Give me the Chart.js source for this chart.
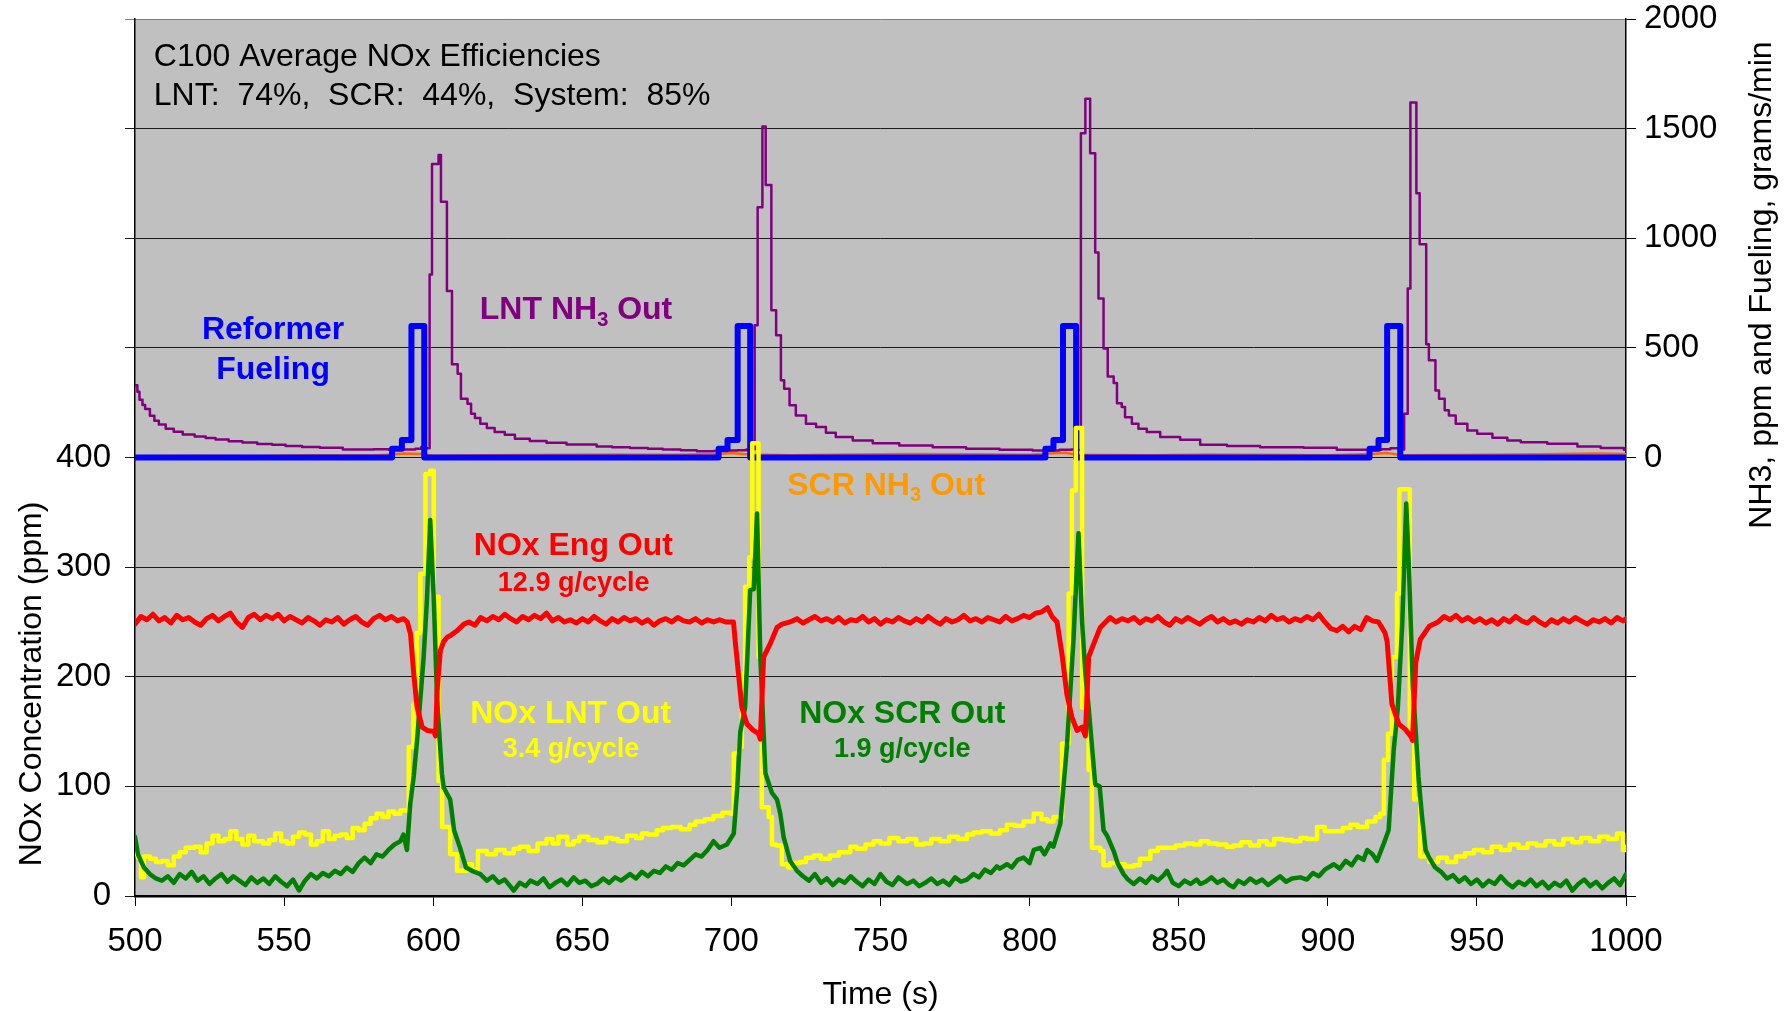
<!DOCTYPE html>
<html>
<head>
<meta charset="utf-8">
<title>C100 Average NOx Efficiencies</title>
<script src="https://cdn.jsdelivr.net/npm/chart.js@4.4.1/dist/chart.umd.min.js"></script>
<style>
  html, body { margin: 0; padding: 0; background: #fff; }
  #wrap { width: 1790px; height: 1011px; }
</style>
</head>
<body>
<div id="wrap"><canvas id="chart" width="1790" height="1011"></canvas></div>
<script>
// Series as [time (s), value] pairs

// Reformer fueling, grams/min (right axis), value holds from each time
const reformerFueling = [
  [500, 0], [586.2, 40], [589.5, 80], [592.7, 600], [597, 0],
  [695.7, 40], [698.7, 80], [702.1, 600], [706.3, 0],
  [805.3, 40], [808, 80], [811.2, 600], [815.6, 0],
  [914, 40], [917, 80], [919.9, 600], [924.3, 0], [1000, 0]
];

// LNT NH3 out, ppm (right axis)
const lntNh3Out = [
  [500, 330], [500.8, 300], [501.5, 263], [502.5, 240], [503.4, 221], [505, 190], [506.5, 168],
  [508, 150], [510.3, 131], [513, 118], [516, 105], [520, 96], [523.7, 89], [527, 82],
  [531.4, 74], [536, 68], [541, 62], [546, 58], [550.5, 53], [556, 48], [562, 44],
  [569.7, 37], [575, 36], [580, 38], [585, 35], [590, 36], [594, 40], [596, 48], [597.5, 42],
  [598.8, 835], [599.6, 1339], [601.8, 1380], [602.6, 1167], [604.6, 759], [606.3, 425],
  [608.2, 382], [609.3, 268], [611.5, 245], [612.7, 200], [614, 180], [615.8, 154], [618, 134],
  [620.6, 116], [624, 104], [627.4, 85], [632.4, 75], [638, 67], [644.7, 59], [654.8, 50],
  [660, 47], [666, 43], [672, 40], [677, 37], [683, 33], [688.4, 29], [694, 30], [698.6, 32],
  [702, 33], [705, 36], [707, 38],
  [707.8, 603], [708.8, 1141], [710.4, 1510], [711.5, 1243], [713.4, 672], [715, 558],
  [716.6, 352], [717.7, 314], [719.5, 238], [721.6, 192], [725, 154], [728.4, 139], [731.7, 113],
  [735, 93], [740.7, 78], [747.4, 65], [756.3, 55], [767.5, 47], [778.7, 40], [789.9, 35],
  [801, 32], [806, 32], [810, 35], [814, 36], [816, 34],
  [817.2, 1479], [818.7, 1636], [820.3, 1388], [822, 935], [823.1, 725], [824.8, 497],
  [826.2, 370], [828.2, 340], [829.3, 248], [830.9, 230], [832, 184], [834.3, 154], [836.5, 131],
  [839.3, 116], [843.8, 93], [850.5, 81], [857.2, 58], [866.2, 53], [877.3, 47], [891.9, 44],
  [903, 35], [913, 35], [918, 38], [921, 42], [924, 36],
  [925.6, 200], [926.8, 771], [927.7, 1619], [929.7, 1205], [930.8, 973], [933, 516],
  [933.9, 443], [936.1, 306], [937.3, 268], [939.2, 215], [940.6, 192], [942.9, 154],
  [946.8, 123], [950.1, 108], [955.2, 90], [960.2, 78], [964.7, 70], [973.6, 63], [983.7, 50],
  [991.5, 43], [999.3, 35], [1000, 35]
];

// SCR NH3 out, ppm (right axis)
const scrNh3Out = [
  [500, 6], [520, 8], [540, 7], [560, 10], [580, 9], [586, 14], [590, 18], [596, 16], [600, 8],
  [620, 10], [640, 12], [660, 14], [680, 12], [695, 16], [700, 20], [706, 14], [720, 10],
  [740, 14], [760, 16], [780, 15], [800, 12], [806, 18], [812, 22], [816, 12], [840, 10],
  [860, 14], [880, 12], [900, 10], [914, 16], [920, 20], [925, 10], [950, 12], [970, 15],
  [990, 18], [1000, 16]
];

// NOx engine out, ppm (left axis)
const noxEngOut = [
  [500, 248], [502, 255], [504, 252], [506, 257], [508, 251], [510, 254], [512, 249], [514, 256],
  [516, 252], [518, 254], [520, 250], [522, 247], [524, 253], [526, 256], [528, 251], [530, 255],
  [532, 258], [534, 250], [536, 245], [538, 254], [540, 257], [542, 252], [544, 256], [546, 253],
  [548, 257], [550, 251], [552, 255], [554, 252], [556, 249], [558, 254], [560, 251], [562, 247],
  [564, 252], [566, 250], [568, 254], [570, 248], [572, 252], [574, 255], [576, 250], [578, 247],
  [580, 253], [582, 256], [584, 252], [586, 255], [588, 251], [590, 253], [591.3, 250],
  [592.4, 239], [593.5, 202], [594.6, 172], [596.3, 154], [598, 151], [600.2, 150], [600.8, 146],
  [601.3, 187], [602.4, 224], [603.5, 232], [604.7, 236], [606, 238], [608, 242], [610.3, 248],
  [612, 250], [614, 247], [615.9, 254], [618, 251], [620, 255], [622, 252], [624, 257], [626, 253],
  [628, 250], [630, 255], [632, 252], [634, 256], [636, 253], [638, 258], [640, 251], [642, 254],
  [644, 250], [646, 252], [648, 249], [650, 253], [652, 250], [654, 255], [656, 251], [658, 248],
  [660, 253], [662, 250], [664, 254], [666, 251], [668, 253], [670, 249], [672, 252], [674, 247],
  [676, 251], [678, 253], [680, 250], [682, 254], [684, 251], [686, 250], [688, 253], [690, 249],
  [692, 252], [694, 250], [696, 252], [698, 250], [700.7, 250], [701.3, 232], [702.4, 202],
  [703.5, 172], [705.2, 157], [707.4, 151], [709.1, 148], [709.7, 143], [710.8, 218], [713, 230],
  [715.3, 245], [717, 248], [719.7, 250], [722, 253], [724, 249], [726, 252], [728, 255],
  [730, 251], [732, 253], [734, 250], [736, 254], [738, 249], [740, 252], [742, 251], [744, 255],
  [746, 250], [748, 253], [750, 248], [752, 252], [754, 250], [756, 254], [758, 251], [760, 249],
  [762, 253], [764, 250], [766, 255], [768, 251], [770, 248], [772, 253], [774, 250], [776, 252],
  [778, 256], [780, 251], [782, 253], [784, 250], [786, 254], [788, 252], [790, 250], [792, 255],
  [794, 251], [796, 253], [798, 256], [800, 254], [802, 258], [804, 259], [806, 263],
  [807.5, 255], [809.2, 250], [810.9, 220], [812.5, 184], [814.2, 163], [815.9, 151],
  [817.6, 154], [818.7, 146], [819.8, 218], [821.5, 230], [823.7, 245], [825.5, 250],
  [827, 254], [829, 250], [831, 253], [833, 251], [835, 254], [837, 249], [839, 253], [841, 251],
  [843, 255], [845, 250], [847, 247], [849, 253], [851, 250], [853, 254], [855, 251], [857, 248],
  [859, 252], [861, 255], [863, 250], [865, 253], [867, 249], [869, 251], [871, 248], [873, 252],
  [875, 250], [877, 254], [879, 251], [881, 256], [883, 252], [885, 254], [887, 250], [889, 253],
  [891, 251], [893, 255], [895, 252], [897, 257], [899, 250], [901, 244], [903, 242], [905, 246],
  [907, 241], [909, 246], [911, 243], [913, 254], [915, 251], [917, 250], [919.2, 240],
  [919.9, 232], [921.5, 175], [923.8, 157], [926, 152], [928, 145], [928.4, 142], [929.5, 213],
  [931, 234], [934, 246], [937, 250], [939, 255], [941, 252], [943, 256], [945, 251], [947, 254],
  [949, 250], [951, 253], [953, 249], [955, 252], [957, 248], [959, 253], [961, 250], [963, 255],
  [965, 251], [967, 249], [969, 254], [971, 250], [973, 247], [975, 252], [977, 249], [979, 253],
  [981, 250], [983, 254], [985, 251], [987, 248], [989, 252], [991, 250], [993, 253], [995, 249],
  [997, 254], [999, 251], [1000, 253]
];

// NOx LNT out, ppm (left axis), value holds from each time
const noxLntOut = [
  [500, 38], [501, 35], [502, 17], [503, 36], [505, 34], [507, 31], [509, 32], [511, 28],
  [513, 36], [515, 40], [517, 44], [520, 45], [522, 40], [524, 48], [526, 55], [528, 50],
  [530, 52], [532, 59], [534, 52], [536, 47], [538, 55], [540, 50], [543, 48], [545, 51],
  [547, 57], [549, 50], [551, 48], [553, 54], [555, 58], [557, 56], [559, 47], [561, 50],
  [563, 59], [565, 52], [567, 55], [569, 56], [571, 53], [573, 62], [575, 60], [577, 66],
  [579, 71], [581, 75], [583, 72], [585, 77], [587, 75], [589, 78], [591.8, 136], [593.4, 175],
  [594.5, 240], [595.7, 294], [597.4, 385], [599, 388], [600.2, 273], [601.8, 105], [603, 63],
  [605.7, 38], [608, 23], [611.3, 29], [613, 24], [615, 41], [618, 38], [621, 42], [624, 39],
  [627, 43], [629, 45], [632, 41], [635, 48], [638, 52], [640, 48], [642, 54], [645, 47],
  [647, 50], [649, 54], [652, 51], [655, 49], [658, 53], [660, 52], [662, 50], [665, 55],
  [668, 53], [670, 57], [672, 56], [675, 60], [677, 62], [680, 63], [683, 61], [686, 65],
  [688, 68], [691, 70], [694, 73], [697, 76], [699.7, 75], [700.8, 130], [702.5, 136],
  [703.5, 203], [704.6, 282], [706, 309], [707, 413], [708.3, 413], [709.1, 218], [710.2, 81],
  [712.5, 72], [713.6, 47], [715, 46], [716.9, 29], [719, 26], [721, 30], [723, 31], [725, 35],
  [727.6, 37], [730, 34], [733, 37], [736, 40], [739.9, 45], [742, 43], [745, 47], [747.7, 50],
  [750, 48], [753, 53], [756, 50], [759, 52], [762, 47], [764.5, 48], [767, 52], [770, 50],
  [773, 54], [776, 52], [779, 56], [781.2, 58], [784, 59], [787, 57], [790, 60], [792.4, 65],
  [795, 64], [798, 68], [801.4, 75], [804, 70], [806, 68], [808, 72], [810.9, 139], [813.1, 276],
  [814.2, 370], [815.5, 427], [816.8, 427], [817.6, 172], [819.8, 115], [820.9, 44], [823.7, 41],
  [824.8, 28], [827, 30], [829.3, 29], [832, 27], [834.9, 28], [837, 34], [840.5, 41], [843, 44],
  [846.1, 44], [849, 46], [852, 48], [855, 47], [857.3, 50], [860, 48], [863, 47], [866, 45],
  [868.4, 46], [871, 49], [874, 46], [877, 50], [879.6, 47], [882, 52], [885, 51], [888, 50],
  [890.8, 53], [893, 52], [896.4, 63], [899, 59], [902, 59], [905, 62], [907.6, 65], [910, 63],
  [913.2, 68], [916, 72], [917.6, 75], [918.8, 124], [920.2, 148], [921.5, 218], [923.2, 276],
  [924, 371], [926.5, 371], [927.5, 151], [929, 88], [931, 36], [934, 31], [937, 35], [940, 31],
  [943, 36], [946, 39], [949, 42], [952, 40], [955, 45], [958, 42], [961, 47], [964, 44],
  [967, 48], [970, 46], [973, 50], [976, 47], [979, 52], [982, 49], [985, 53], [988, 50],
  [991, 54], [994, 52], [997, 57], [999, 42], [1000, 45]
];

// NOx SCR out, ppm (left axis)
const noxScrOut = [
  [500, 54], [501, 38], [503, 26], [505, 20], [507, 16], [509, 14], [511, 18], [513, 12],
  [515, 20], [517, 16], [519, 22], [521, 14], [523, 18], [525, 11], [527, 16], [529, 20],
  [531, 13], [533, 18], [535, 14], [537, 10], [539, 17], [541, 12], [543, 16], [545, 11],
  [547, 18], [549, 13], [551, 9], [553, 15], [555, 5], [557, 14], [559, 20], [561, 16],
  [563, 21], [565, 18], [567, 23], [569, 20], [571, 26], [573, 22], [575, 30], [577, 35],
  [579, 30], [581, 38], [583, 36], [585, 42], [587, 47], [589, 50], [590, 56], [591.2, 42],
  [592.3, 84], [593.5, 110], [594.6, 142], [596.8, 218], [597.9, 270], [599, 343], [600.2, 270],
  [601.3, 180], [602.9, 112], [603.5, 99], [605.7, 88], [607, 60], [609, 44], [611, 26],
  [613, 23], [615.8, 20], [618, 14], [620, 18], [622, 12], [624, 15], [627, 5], [629, 12],
  [631, 9], [632.6, 14], [635, 11], [637, 16], [639, 8], [641, 12], [643, 15], [645, 10],
  [647.1, 17], [649, 12], [651, 14], [653, 9], [654.9, 11], [657, 16], [659, 12], [661, 17],
  [663, 14], [666, 20], [668, 16], [670, 22], [672, 18], [674, 23], [676, 21], [678, 27],
  [680, 24], [682, 30], [684, 28], [686, 33], [688, 38], [690, 36], [692, 42], [694, 50],
  [696, 44], [698.5, 47], [700.8, 57], [701.9, 96], [703, 150], [704.6, 172], [706.3, 279],
  [707.5, 280], [708.6, 349], [709.7, 218], [711.4, 112], [713.6, 94], [715.3, 88], [716.4, 75],
  [717.5, 54], [719.7, 32], [722, 23], [724, 18], [726, 14], [728, 20], [730, 12], [732, 16],
  [734, 10], [736, 15], [738, 12], [740, 18], [742, 13], [744, 9], [746, 15], [748, 11],
  [750, 20], [752, 13], [754, 10], [756, 17], [758.9, 11], [761, 14], [763, 9], [765, 12],
  [767, 16], [769, 11], [771, 14], [773, 10], [775, 17], [777, 13], [779, 15], [781.2, 20],
  [783, 17], [785, 24], [787, 21], [789, 27], [790, 25], [792.4, 29], [794, 26], [796, 33],
  [798, 35], [800, 30], [801.4, 42], [803.6, 44], [805, 38], [807, 48], [808, 45], [810.3, 66],
  [812.5, 136], [814.7, 233], [816.4, 331], [817.6, 250], [818.7, 203], [819.8, 172], [822, 102],
  [823.5, 100], [824.8, 60], [826, 55], [828.2, 41], [829.5, 30], [831.5, 20], [833, 15],
  [834.9, 11], [837, 16], [839, 12], [841, 18], [843, 14], [845, 19], [846.1, 23], [848, 12],
  [850, 9], [852, 14], [854, 11], [856, 15], [857.3, 11], [859, 13], [861, 17], [863, 12],
  [865, 15], [867, 10], [868.4, 8], [870, 14], [872, 11], [874, 16], [876, 12], [878, 15],
  [880, 10], [882, 14], [884, 18], [886, 13], [888, 16], [890.8, 17], [893, 15], [895, 21],
  [897, 18], [899, 24], [902, 29], [904, 25], [906, 32], [908, 28], [910, 36], [912, 33],
  [913.2, 42], [915, 38], [916.5, 32], [918.8, 48], [920.4, 60], [922.1, 133], [923.5, 172],
  [925, 250], [926.3, 358], [927.2, 300], [928.5, 192], [929.5, 150], [930.4, 109], [931.5, 75],
  [932.8, 42], [934, 35], [936, 26], [938, 22], [940, 16], [942, 19], [944, 13], [946, 17],
  [948, 11], [950, 15], [952, 9], [954, 14], [956, 11], [958, 18], [960, 12], [962, 8],
  [964, 13], [966, 10], [968, 15], [970, 9], [972, 13], [974, 7], [976, 12], [978, 9],
  [980, 14], [982, 5], [984, 11], [986, 15], [988, 9], [990, 13], [992, 7], [994, 12],
  [996, 16], [998, 10], [1000, 20]
];

const FONT = "'Liberation Sans', Arial, sans-serif";

// Text placed in data units: t = time, v = left axis value at the text baseline
const annotations = [
  { parts: [['Reformer', 0]], t: 546.3, v: 508, size: 32, color: '#0000ff' },
  { parts: [['Fueling', 0]], t: 546.3, v: 472, size: 32, color: '#0000ff' },
  { parts: [['LNT NH', 0], ['3', 1], [' Out', 0]], t: 647.9, v: 526, size: 32, color: '#800080' },
  { parts: [['SCR NH', 0], ['3', 1], [' Out', 0]], t: 751.9, v: 366, size: 32, color: '#ff9900' },
  { parts: [['NOx Eng Out', 0]], t: 647.0, v: 311, size: 32, color: '#ff0000' },
  { parts: [['12.9 g/cycle', 0]], t: 647.1, v: 278.5, size: 27, color: '#ff0000' },
  { parts: [['NOx LNT Out', 0]], t: 646.1, v: 157.5, size: 32, color: '#ffff00' },
  { parts: [['3.4 g/cycle', 0]], t: 646.2, v: 126.5, size: 27, color: '#ffff00' },
  { parts: [['NOx SCR Out', 0]], t: 757.3, v: 157.5, size: 32, color: '#008000' },
  { parts: [['1.9 g/cycle', 0]], t: 757.3, v: 126.5, size: 27, color: '#008000' }
];

const summaryLines = [
  { text: 'C100 Average NOx Efficiencies', t: 506.3, v: 757 },
  { text: 'LNT:  74%,  SCR:  44%,  System:  85%', t: 506.3, v: 722 }
];

const toXY = pairs => pairs.map(([x, y]) => ({ x, y }));

// Grey plot area behind everything
const plotBackground = {
  id: 'plotBackground',
  beforeDraw(chart) {
    const { ctx, chartArea: a } = chart;
    ctx.save();
    ctx.fillStyle = '#c0c0c0';
    ctx.fillRect(a.left, a.top, a.right - a.left, a.bottom - a.top);
    ctx.restore();
  }
};

function drawParts(ctx, parts, cx, y, size, color) {
  const widths = parts.map(([txt, sub]) => {
    ctx.font = `bold ${sub ? Math.round(size * 0.62) : size}px ${FONT}`;
    return ctx.measureText(txt).width;
  });
  let x = cx - widths.reduce((s, w) => s + w, 0) / 2;
  ctx.fillStyle = color;
  ctx.textAlign = 'left';
  ctx.textBaseline = 'alphabetic';
  parts.forEach(([txt, sub], i) => {
    ctx.font = `bold ${sub ? Math.round(size * 0.62) : size}px ${FONT}`;
    ctx.fillText(txt, x, sub ? y + size * 0.2 : y);
    x += widths[i];
  });
}

// Series labels, efficiency box and the axis titles
const chartText = {
  id: 'chartText',
  afterDraw(chart) {
    const { ctx, chartArea: a } = chart;
    const xs = chart.scales.x, ys = chart.scales.y;
    ctx.save();

    annotations.forEach(an => {
      drawParts(ctx, an.parts, xs.getPixelForValue(an.t), ys.getPixelForValue(an.v), an.size, an.color);
    });

    ctx.fillStyle = '#000';
    ctx.font = `32px ${FONT}`;
    ctx.textAlign = 'left';
    ctx.textBaseline = 'alphabetic';
    summaryLines.forEach(l => ctx.fillText(l.text, xs.getPixelForValue(l.t), ys.getPixelForValue(l.v)));

    // x title
    ctx.textAlign = 'center';
    ctx.fillText('Time (s)', (a.left + a.right) / 2, 1004);

    // left title, centred on the 0-400 part of the axis
    ctx.save();
    ctx.translate(41, 684);
    ctx.rotate(-Math.PI / 2);
    ctx.fillText('NOx Concentration (ppm)', 0, 0);
    ctx.restore();

    // right title
    ctx.save();
    ctx.translate(1771, 285);
    ctx.rotate(-Math.PI / 2);
    ctx.fillText('NH3, ppm and Fueling, grams/min', 0, 0);
    ctx.restore();

    ctx.restore();
  }
};

const tickFont = { family: FONT, size: 33 };

// keep the plot area fixed: no extra room for half tick labels
const noScalePadding = s => {
  s.paddingTop = 0; s.paddingBottom = 0; s.paddingLeft = 0; s.paddingRight = 0;
};

new Chart(document.getElementById('chart'), {
  type: 'line',
  data: {
    datasets: [
      { label: 'NOx Eng Out', data: toXY(noxEngOut), yAxisID: 'y', borderColor: '#ff0000', borderWidth: 5, order: 0 },
      { label: 'NOx SCR Out', data: toXY(noxScrOut), yAxisID: 'y', borderColor: '#008000', borderWidth: 4.5, order: 1 },
      { label: 'NOx LNT Out', data: toXY(noxLntOut), yAxisID: 'y', borderColor: '#ffff00', borderWidth: 4.5, stepped: true, order: 2 },
      { label: 'Reformer Fueling', data: toXY(reformerFueling), yAxisID: 'y2', borderColor: '#0000ff', borderWidth: 6, stepped: true, order: 3 },
      { label: 'LNT NH3 Out', data: toXY(lntNh3Out), yAxisID: 'y2', borderColor: '#800080', borderWidth: 2.5, stepped: true, order: 4 },
      { label: 'SCR NH3 Out', data: toXY(scrNh3Out), yAxisID: 'y2', borderColor: '#ff6600', borderWidth: 2.5, order: 5 }
    ]
  },
  options: {
    responsive: false,
    animation: false,
    devicePixelRatio: 1,
    layout: { padding: { top: 19, left: 0, right: 0, bottom: 0 } },
    elements: {
      point: { radius: 0 },
      line: { tension: 0, borderJoinStyle: 'round', borderCapStyle: 'round', fill: false }
    },
    plugins: { legend: { display: false }, tooltip: { enabled: false } },
    scales: {
      x: {
        type: 'linear', min: 500, max: 1000,
        afterFit: s => { s.height = 115; noScalePadding(s); },
        ticks: { stepSize: 50, font: tickFont, color: '#000', padding: 16, maxRotation: 0,
                 callback: v => String(v) },
        grid: { drawOnChartArea: false, drawTicks: true, tickLength: 10, color: '#000' },
        border: { display: true, color: '#000', width: 2.5 }
      },
      y: {
        position: 'left', min: 0, max: 800,
        afterFit: s => { s.width = 135; noScalePadding(s); },
        ticks: { stepSize: 100, font: tickFont, color: '#000', padding: 14,
                 callback: v => (v <= 400 ? String(v) : '') },
        grid: { color: c => (c.tick && c.tick.value === 800 ? '#808080' : '#1a1a1a'),
                lineWidth: 1, tickLength: 10 },
        border: { display: true, color: '#000', width: 1.5 }
      },
      y2: {
        position: 'right', min: -2000, max: 2000,
        afterFit: s => { s.width = 164; noScalePadding(s); },
        ticks: { stepSize: 500, font: tickFont, color: '#000', padding: 8,
                 callback: v => (v >= 0 ? String(v) : '') },
        grid: { drawOnChartArea: false, tickLength: 10, color: '#000' },
        border: { display: true, color: '#000', width: 1.5 }
      }
    }
  },
  plugins: [plotBackground, chartText]
});
</script>
</body>
</html>
